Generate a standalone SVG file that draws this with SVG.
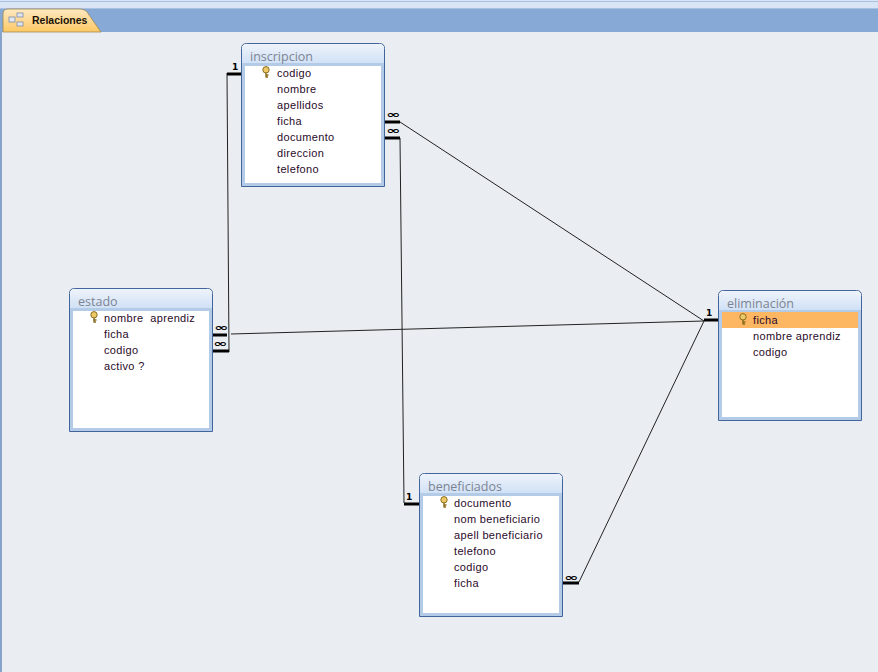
<svg xmlns="http://www.w3.org/2000/svg" width="878" height="672" viewBox="0 0 878 672">
<style>
.win{fill:#fff;stroke:#41659c;stroke-width:1}
.inner{fill:none;stroke:#b4cbe8;stroke-width:3}
.t{font-family:"Open Sans",sans-serif;font-size:12.500px;fill:#7c8492}
.f{font-family:"Liberation Sans",sans-serif;font-size:11px;fill:#2a0a2a;letter-spacing:.35px}
.m{font-family:"DejaVu Sans",sans-serif;font-size:9px;font-weight:bold;fill:#000}
.o{font-family:"DejaVu Sans",sans-serif;font-size:10px;font-weight:bold;fill:#000}
.thin{fill:none;stroke:#222;stroke-width:1}
.thick{fill:none;stroke:#000;stroke-width:3}
</style>
<defs>
<linearGradient id="h" x1="0" y1="0" x2="0" y2="1"><stop offset="0" stop-color="#eef3fa"/><stop offset="1" stop-color="#cfe0f6"/></linearGradient>
<linearGradient id="tab" x1="0" y1="0" x2="0" y2="1"><stop offset="0" stop-color="#fde9c2"/><stop offset="1" stop-color="#fdc864"/></linearGradient>
<g id="key"><circle cx="4" cy="2.800" r="3.200" fill="#ecc966" stroke="#8a6d20" stroke-width="1"/><path d="M4 6V10.500M4 8H6.500M4 10H6" stroke="#8a6d20" stroke-width="1.500" fill="none"/></g>
</defs>
<rect width="878" height="672" fill="#eaeef2"/>
<rect width="878" height="9" fill="#d9e5f5"/>
<rect y="1" width="878" height="1" fill="#a9c2e2"/>
<rect y="8" width="878" height="1" fill="#a9c2e2"/>
<rect y="9" width="878" height="23" fill="#86a9d5"/>
<rect x="0" y="32" width="2" height="640" fill="#86a3cb"/>
<g id="tab-relaciones">
<path d="M3 32V14Q3 9 8 9H80Q86 9 89 15L101 32Z" fill="url(#tab)" stroke="#a08850" stroke-width=".8"/>
<g fill="#dfe6f2" stroke="#7d8ca5" stroke-width=".8"><rect x="9" y="17" width="6" height="5"/><rect x="17" y="13" width="6" height="4"/><rect x="17" y="22" width="6" height="4"/></g>
<text x="32" y="24" font-family="Liberation Sans, sans-serif" font-size="10.500" font-weight="bold" fill="#1a1206">Relaciones</text>
</g>
<g id="connectors">
<path class="thin" d="M227 73L229 352"/>
<path class="thick" d="M241 74H227M213 351H229"/>
<path class="thin" d="M400 122L704 321"/>
<path class="thin" d="M400 138L404 503"/>
<path class="thick" d="M385 122H400M385 138H400M404 504H419"/>
<path class="thin" d="M231 334L704 321"/>
<path class="thick" d="M213 335H227"/>
<path class="thin" d="M579 582L704 321"/>
<path class="thick" d="M563 583H579M704 320H718"/>
<text class="m" x="232" y="70">1</text>
<text class="o" x="386" y="118" textLength="14" lengthAdjust="spacingAndGlyphs">∞</text>
<text class="o" x="386" y="134" textLength="14" lengthAdjust="spacingAndGlyphs">∞</text>
<text class="o" x="214" y="331" textLength="14" lengthAdjust="spacingAndGlyphs">∞</text>
<text class="o" x="213" y="347" textLength="14" lengthAdjust="spacingAndGlyphs">∞</text>
<text class="m" x="406" y="500">1</text>
<text class="o" x="564" y="581" textLength="14" lengthAdjust="spacingAndGlyphs">∞</text>
<text class="m" x="706" y="316">1</text>
</g>
<g id="inscripcion">
<path class="win" d="M241.500 186.500V48.500Q241.500 43.500 246.500 43.500H379.500Q384.500 43.500 384.500 48.500V186.500Z"/>
<path d="M242 64V49Q242 44 247 44H379Q384 44 384 49V64Z" fill="url(#h)"/>
<rect class="inner" x="243.500" y="64.500" width="139" height="120"/>
<text class="t" x="250" y="61">inscripcion</text>
<use href="#key" x="262" y="67"/>
<text class="f" x="277" y="77">codigo</text><text class="f" x="277" y="93">nombre</text><text class="f" x="277" y="109">apellidos</text><text class="f" x="277" y="125">ficha</text><text class="f" x="277" y="141">documento</text><text class="f" x="277" y="157">direccion</text><text class="f" x="277" y="173">telefono</text>
</g>
<g id="estado">
<path class="win" d="M69.500 431.500V293.500Q69.500 288.500 74.500 288.500H207.500Q212.500 288.500 212.500 293.500V431.500Z"/>
<path d="M70 309V294Q70 289 75 289H207Q212 289 212 294V309Z" fill="url(#h)"/>
<rect class="inner" x="71.500" y="309.500" width="139" height="120"/>
<text class="t" x="78" y="306">estado</text>
<use href="#key" x="90" y="312"/>
<text class="f" x="104" y="322" xml:space="preserve">nombre  aprendiz</text><text class="f" x="104" y="338">ficha</text><text class="f" x="104" y="354">codigo</text><text class="f" x="104" y="370">activo ?</text>
</g>
<g id="eliminacion">
<path class="win" d="M718.500 420.500V295.500Q718.500 290.500 723.500 290.500H856.500Q861.500 290.500 861.500 295.500V420.500Z"/>
<path d="M719 311V296Q719 291 724 291H856Q861 291 861 296V311Z" fill="url(#h)"/>
<rect class="inner" x="720.500" y="311.500" width="139" height="107"/>
<rect x="722" y="312" width="136" height="16" fill="#fdb661"/>
<text class="t" x="727" y="308">eliminación</text>
<use href="#key" x="739" y="314"/>
<text class="f" x="753" y="324">ficha</text><text class="f" x="753" y="340">nombre aprendiz</text><text class="f" x="753" y="356">codigo</text>
</g>
<g id="beneficiados">
<path class="win" d="M419.500 616.500V478.500Q419.500 473.500 424.500 473.500H557.500Q562.500 473.500 562.500 478.500V616.500Z"/>
<path d="M420 494V479Q420 474 425 474H557Q562 474 562 479V494Z" fill="url(#h)"/>
<rect class="inner" x="421.500" y="494.500" width="139" height="120"/>
<text class="t" x="428" y="491">beneficiados</text>
<use href="#key" x="440" y="497"/>
<text class="f" x="454" y="507">documento</text><text class="f" x="454" y="523">nom beneficiario</text><text class="f" x="454" y="539">apell beneficiario</text><text class="f" x="454" y="555">telefono</text><text class="f" x="454" y="571">codigo</text><text class="f" x="454" y="587">ficha</text>
</g>
</svg>
